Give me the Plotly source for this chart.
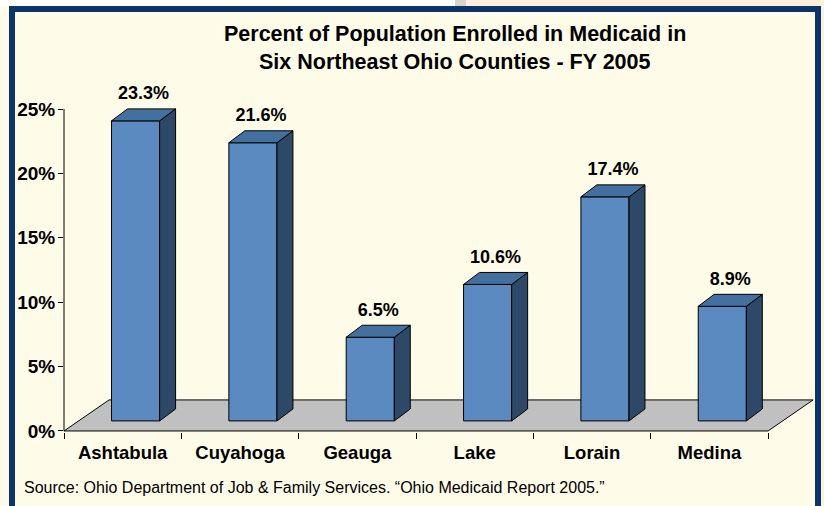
import plotly.graph_objects as go

# data
counties = ['Ashtabula', 'Cuyahoga', 'Geauga', 'Lake', 'Lorain', 'Medina']
pct = [23.3, 21.6, 6.5, 10.6, 17.4, 8.9]
y_ticks = [0, 5, 10, 15, 20, 25]

title_lines = ['Percent of Population Enrolled in Medicaid in',
               'Six Northeast Ohio Counties - FY 2005']
source = 'Source: Ohio Department of Job & Family Services. \u201cOhio Medicaid Report 2005.\u201d'

FONT = 'Liberation Sans, Arial, sans-serif'
NAVY = '#0C3468'
CREAM = '#FFFBE9'
FRONT, TOP, SIDE = '#5A8AC0', '#44709F', '#2E4868'

# fake 3d geometry, in data units
floor_dx, floor_dy = 0.384, 2.41
bar_w = 0.41
bar_dx, bar_dy = 0.136, 0.93
base_dx, base_dy = 0.11, 0.78

# plot area in pixels (used only for decorations in paper coords)
L, R, T, B = 64, 815, 100, 432
W, H = 824, 506


def px(x):
    return (x - L) / (R - L)


def py(y):
    return (B - y) / (B - T)


fig = go.Figure()

# floor
n = len(counties)
fig.add_trace(go.Scatter(
    x=[-0.5, n - 0.5, n - 0.5 + floor_dx, -0.5 + floor_dx, -0.5],
    y=[0, 0, floor_dy, floor_dy, 0],
    mode='lines', fill='toself', fillcolor='#C0C0C0',
    line=dict(color='black', width=1), hoverinfo='skip', showlegend=False))

fx, fy, tx, ty, sx, sy = [], [], [], [], [], []
lab_x, lab_y = [], []
for i, v in enumerate(pct):
    x0 = i + base_dx - bar_w / 2
    x1 = x0 + bar_w
    y0 = base_dy
    y1 = base_dy + v
    fx += [x0, x1, x1, x0, x0, None]
    fy += [y0, y0, y1, y1, y0, None]
    tx += [x0, x1, x1 + bar_dx, x0 + bar_dx, x0, None]
    ty += [y1, y1, y1 + bar_dy, y1 + bar_dy, y1, None]
    sx += [x1, x1 + bar_dx, x1 + bar_dx, x1, x1, None]
    sy += [y0, y0 + bar_dy, y1 + bar_dy, y1, y0, None]
    lab_x.append((x0 + x1 + bar_dx) / 2)
    lab_y.append(y1 + bar_dy + 0.4)

for xs, ys, col in [(fx, fy, FRONT), (sx, sy, SIDE), (tx, ty, TOP)]:
    fig.add_trace(go.Scatter(x=xs, y=ys, mode='lines', fill='toself',
                             fillcolor=col, line=dict(color='black', width=1),
                             hoverinfo='skip', showlegend=False))

fig.add_trace(go.Scatter(
    x=lab_x, y=lab_y, mode='text', text=[f'{v:.1f}%' for v in pct],
    textposition='top center', cliponaxis=False,
    textfont=dict(family=FONT, size=18, color='black', weight='bold'),
    hoverinfo='skip', showlegend=False))

fig.update_xaxes(
    range=[-0.5, n - 0.5 + 0.4], showgrid=False, zeroline=False, showline=False,
    tickvals=list(range(n)), ticktext=counties, ticks='', ticklabelstandoff=7,
    tickfont=dict(family=FONT, size=18.5, color='black', weight='bold'),
    minor=dict(tickvals=[k - 0.5 for k in range(n + 1)], ticks='outside',
               ticklen=6, tickcolor='black', tickwidth=1, showgrid=False),
    fixedrange=True)
fig.update_yaxes(
    range=[-0.08, 25.7], showgrid=False, zeroline=False, showline=False,
    tickvals=y_ticks, ticktext=[f'{t}%' for t in y_ticks], ticks='outside',
    ticklen=5, tickcolor='black', tickwidth=1, ticklabelstandoff=-1,
    tickfont=dict(family=FONT, size=19, color='black', weight='bold'),
    fixedrange=True)

shapes = [
    # y axis line
    dict(type='line', xref='paper', yref='y', x0=0, x1=0, y0=0, y1=25,
         line=dict(color='black', width=1)),
    # top strip outside the frame
    dict(type='rect', xref='paper', yref='paper', x0=px(0), x1=px(455),
         y0=py(0), y1=py(6), fillcolor='white', line_width=0, layer='below'),
    dict(type='rect', xref='paper', yref='paper', x0=px(455), x1=px(466),
         y0=py(0), y1=py(6), fillcolor='#D8D4CC', line_width=0, layer='below'),
    dict(type='rect', xref='paper', yref='paper', x0=px(466), x1=px(W),
         y0=py(0), y1=py(6), fillcolor='#FDF0DC', line_width=0, layer='below'),
    dict(type='rect', xref='paper', yref='paper', x0=px(821), x1=px(W),
         y0=py(0), y1=py(H), fillcolor='#FDF0DC', line_width=0, layer='below'),
    # navy frame
    dict(type='rect', xref='paper', yref='paper', x0=px(12), x1=px(818),
         y0=py(9), y1=py(H + 20), line=dict(color=NAVY, width=6),
         fillcolor='rgba(0,0,0,0)', layer='below'),
]

annotations = [
    dict(text=title_lines[0], x=px(455), y=py(34), xref='paper', yref='paper',
         showarrow=False, xanchor='center', yanchor='middle',
         font=dict(family=FONT, size=21.5, color='black', weight='bold')),
    dict(text=title_lines[1], x=px(455), y=py(62), xref='paper', yref='paper',
         showarrow=False, xanchor='center', yanchor='middle',
         font=dict(family=FONT, size=21.5, color='black', weight='bold')),
    dict(text=source, x=px(22), y=py(487), xref='paper', yref='paper',
         showarrow=False, xanchor='left', yanchor='middle',
         font=dict(family=FONT, size=16, color='black')),
]

fig.update_layout(
    width=W, height=H,
    margin=dict(l=L, r=W - R, t=T, b=H - B, pad=0),
    paper_bgcolor=CREAM, plot_bgcolor='rgba(0,0,0,0)',
    shapes=shapes, annotations=annotations,
    showlegend=False,
)

# drop the default 8px page margin so the figure sits at the window origin
fig.write_html('out.html', config={'displayModeBar': False},
               post_script="document.body.style.margin='0';")
